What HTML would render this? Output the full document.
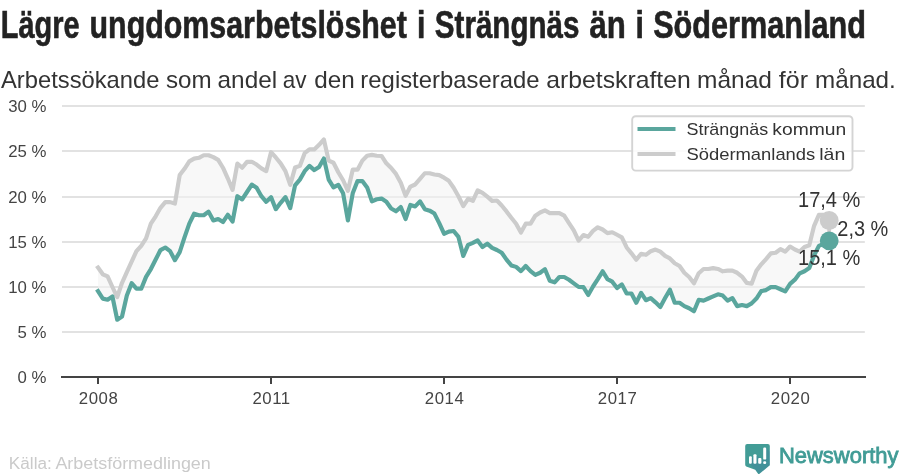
<!DOCTYPE html>
<html><head><meta charset="utf-8"><title>chart</title>
<style>
html,body{margin:0;padding:0;background:#fff;}
body{width:900px;height:474px;overflow:hidden;position:relative;font-family:"Liberation Sans",sans-serif;}
svg{position:absolute;left:0;top:0;will-change:transform;}
text{font-family:"Liberation Sans",sans-serif;}
.tick{font-size:16.8px;fill:#444;}
.xt{letter-spacing:0.55px;}
.title{font-size:38px;font-weight:bold;fill:#222;stroke:#222;stroke-width:0.6px;}
.sub{font-size:23.2px;fill:#333;}
.leg{font-size:16.4px;fill:#333;}
.val{font-size:22.2px;fill:#333;}
.src{font-size:16px;fill:#cacaca;}
.logo{font-size:21.3px;fill:#419c96;stroke:#419c96;stroke-width:0.8px;}
</style></head><body>
<svg width="900" height="474" viewBox="0 0 900 474">
<text x="0.76" y="37.5" class="title" textLength="78.82" lengthAdjust="spacingAndGlyphs">Lägre</text>
<text x="89.53" y="37.5" class="title" textLength="317.36" lengthAdjust="spacingAndGlyphs">ungdomsarbetslöshet</text>
<text x="417.05" y="37.5" class="title" textLength="8.38" lengthAdjust="spacingAndGlyphs">i</text>
<text x="434.83" y="37.5" class="title" textLength="144.61" lengthAdjust="spacingAndGlyphs">Strängnäs</text>
<text x="589.4" y="37.5" class="title" textLength="36.39" lengthAdjust="spacingAndGlyphs">än</text>
<text x="635.55" y="37.5" class="title" textLength="8.38" lengthAdjust="spacingAndGlyphs">i</text>
<text x="653.19" y="37.5" class="title" textLength="212.82" lengthAdjust="spacingAndGlyphs">Södermanland</text>
<text x="1.03" y="87.5" class="sub" textLength="158.42" lengthAdjust="spacingAndGlyphs">Arbetssökande</text>
<text x="165.93" y="87.5" class="sub" textLength="45.67" lengthAdjust="spacingAndGlyphs">som</text>
<text x="217.57" y="87.5" class="sub" textLength="59.56" lengthAdjust="spacingAndGlyphs">andel</text>
<text x="282.66" y="87.5" class="sub" textLength="23.81" lengthAdjust="spacingAndGlyphs">av</text>
<text x="314.25" y="87.5" class="sub" textLength="40.51" lengthAdjust="spacingAndGlyphs">den</text>
<text x="360.38" y="87.5" class="sub" textLength="179.16" lengthAdjust="spacingAndGlyphs">registerbaserade</text>
<text x="546.35" y="87.5" class="sub" textLength="144.42" lengthAdjust="spacingAndGlyphs">arbetskraften</text>
<text x="697.03" y="87.5" class="sub" textLength="74.9" lengthAdjust="spacingAndGlyphs">månad</text>
<text x="778.83" y="87.5" class="sub" textLength="29.19" lengthAdjust="spacingAndGlyphs">för</text>
<text x="815.05" y="87.5" class="sub" textLength="80.77" lengthAdjust="spacingAndGlyphs">månad.</text>
<rect x="62" y="105.00" width="802.8" height="2" fill="#e2e2e2"/>
<rect x="62" y="150.00" width="802.8" height="2" fill="#e2e2e2"/>
<rect x="62" y="196.00" width="802.8" height="2" fill="#e2e2e2"/>
<rect x="62" y="241.00" width="802.8" height="2" fill="#e2e2e2"/>
<rect x="62" y="286.00" width="802.8" height="2" fill="#e2e2e2"/>
<rect x="62" y="331.00" width="802.8" height="2" fill="#e2e2e2"/>
<text x="46.5" y="111.70" text-anchor="end" class="tick">30 %</text>
<text x="46.5" y="156.70" text-anchor="end" class="tick">25 %</text>
<text x="46.5" y="202.70" text-anchor="end" class="tick">20 %</text>
<text x="46.5" y="247.70" text-anchor="end" class="tick">15 %</text>
<text x="46.5" y="292.70" text-anchor="end" class="tick">10 %</text>
<text x="46.5" y="337.70" text-anchor="end" class="tick">5 %</text>
<text x="46.5" y="382.70" text-anchor="end" class="tick">0 %</text>
<polygon points="98.0,267.58 102.81,274.33 107.61,276.44 112.42,287.0 117.22,297.13 122.03,282.78 126.84,272.22 131.64,261.67 136.45,251.11 141.25,245.83 146.06,238.44 150.87,223.67 155.67,216.28 160.48,207.83 165.28,202.13 170.09,202.13 174.9,203.61 179.7,175.11 184.51,168.78 189.31,161.39 194.12,158.64 198.93,157.8 203.73,155.27 208.54,155.27 213.34,157.17 218.15,159.91 222.96,167.72 227.76,178.28 232.57,189.89 237.37,163.5 242.18,167.72 246.99,161.81 251.79,161.81 256.6,164.56 261.4,168.36 266.21,171.17 271.02,152.17 275.82,157.44 280.63,163.36 285.43,171.17 290.24,184.89 295.05,167.58 299.85,165.89 304.66,153.22 309.46,149.42 314.27,149.42 319.08,144.78 323.88,139.5 328.69,160.61 333.49,162.72 338.3,172.22 343.11,180.24 347.91,190.8 352.72,169.69 357.52,169.69 362.33,160.61 367.14,155.76 371.94,154.91 376.75,155.76 381.55,155.97 386.36,163.36 391.17,168.0 395.97,173.91 400.78,182.78 405.58,195.87 410.39,186.58 415.2,184.47 420.0,178.98 424.81,173.28 429.61,173.28 434.42,174.5 439.23,175.13 444.03,177.67 448.84,180.83 453.64,187.8 458.45,196.24 463.26,206.17 468.06,198.78 472.87,200.89 477.67,190.33 482.48,192.87 487.29,196.67 492.09,200.89 496.9,200.47 501.7,205.53 506.51,211.44 511.32,217.78 516.12,223.69 520.93,232.56 525.73,223.69 530.54,223.69 535.35,215.67 540.15,212.5 544.96,210.39 549.76,213.13 554.57,213.13 559.38,213.13 564.18,215.67 568.99,223.06 573.79,230.44 578.6,240.58 583.41,235.09 588.21,236.78 593.02,230.87 597.82,227.28 602.63,229.5 607.44,233.09 612.24,232.24 617.05,234.78 621.85,237.31 626.66,247.44 631.47,253.36 636.27,259.69 641.08,253.78 645.88,254.83 650.69,251.24 655.5,249.56 660.3,251.67 665.11,255.89 669.91,258.42 674.72,263.28 679.53,266.02 684.33,272.78 689.14,277.0 693.94,283.33 698.75,273.2 703.56,268.98 708.36,268.98 713.17,268.13 717.97,268.98 722.78,271.3 727.59,270.67 732.39,270.67 737.2,272.78 742.0,276.58 746.81,282.91 751.62,283.76 756.42,270.67 761.23,264.33 766.03,259.06 770.84,253.36 775.65,252.72 780.45,249.13 785.26,251.67 790.06,246.54 794.87,249.49 799.68,251.6 804.48,246.96 809.29,245.27 814.09,225.86 818.9,214.89 823.71,214.89 828.51,219.75 828.51,240.63 823.71,243.8 818.9,245.91 814.09,255.4 809.29,268.06 804.48,271.22 799.68,273.33 794.87,279.66 790.06,283.88 785.26,291.36 780.45,289.24 775.65,287.13 770.84,287.13 766.03,290.09 761.23,291.14 756.42,298.53 751.62,303.39 746.81,306.13 742.0,305.08 737.2,306.13 732.39,298.11 727.59,300.64 722.78,295.58 717.97,294.31 713.17,296.42 708.36,298.53 703.56,300.64 698.75,299.8 693.94,311.2 689.14,308.24 684.33,306.13 679.53,302.76 674.72,302.76 669.91,289.67 665.11,298.11 660.3,306.98 655.5,302.33 650.69,298.11 645.88,300.22 641.08,292.83 636.27,302.76 631.47,293.47 626.66,293.47 621.85,284.39 617.05,287.98 612.24,281.64 607.44,279.11 602.63,271.3 597.82,279.11 593.02,286.5 588.21,294.94 583.41,287.13 578.6,286.92 573.79,283.33 568.99,279.74 564.18,277.0 559.38,277.0 554.57,282.28 549.76,280.8 544.96,269.19 540.15,272.78 535.35,274.89 530.54,271.09 525.73,266.02 520.93,271.09 516.12,266.87 511.32,265.39 506.51,259.69 501.7,252.72 496.9,249.98 492.09,247.87 487.29,243.64 482.48,247.02 477.67,240.48 472.87,242.8 468.06,244.91 463.26,255.89 458.45,236.89 453.64,230.98 448.84,231.61 444.03,233.72 439.23,223.17 434.42,213.56 429.61,210.64 424.81,209.17 420.0,201.36 415.2,206.42 410.39,204.94 405.58,219.09 400.78,207.06 395.97,211.28 391.17,208.53 386.36,201.78 381.55,198.61 376.75,199.24 371.94,201.36 367.14,187.42 362.33,181.09 357.52,181.09 352.72,193.33 347.91,220.36 343.11,193.33 338.3,184.89 333.49,187.42 328.69,179.61 323.88,158.5 319.08,166.94 314.27,170.11 309.46,165.89 304.66,171.17 299.85,179.61 295.05,185.31 290.24,208.11 285.43,197.13 280.63,202.83 275.82,209.17 271.02,197.13 266.21,201.78 261.4,196.22 256.6,187.78 251.79,184.61 246.99,192.0 242.18,199.39 237.37,196.22 232.57,221.56 227.76,214.8 222.96,221.98 218.15,219.02 213.34,220.5 208.54,211.63 203.73,215.22 198.93,215.22 194.12,213.74 189.31,223.67 184.51,237.39 179.7,252.17 174.9,260.19 170.09,251.11 165.28,247.52 160.48,250.06 155.67,259.56 150.87,269.06 146.06,276.87 141.25,288.69 136.45,288.69 131.64,283.2 126.84,295.44 122.03,316.56 117.22,319.72 112.42,296.5 107.61,299.67 102.81,298.61 98.0,291.22" fill="#f3f3f3" fill-opacity="0.6"/>
<polyline points="98.0,267.58 102.81,274.33 107.61,276.44 112.42,287.0 117.22,297.13 122.03,282.78 126.84,272.22 131.64,261.67 136.45,251.11 141.25,245.83 146.06,238.44 150.87,223.67 155.67,216.28 160.48,207.83 165.28,202.13 170.09,202.13 174.9,203.61 179.7,175.11 184.51,168.78 189.31,161.39 194.12,158.64 198.93,157.8 203.73,155.27 208.54,155.27 213.34,157.17 218.15,159.91 222.96,167.72 227.76,178.28 232.57,189.89 237.37,163.5 242.18,167.72 246.99,161.81 251.79,161.81 256.6,164.56 261.4,168.36 266.21,171.17 271.02,152.17 275.82,157.44 280.63,163.36 285.43,171.17 290.24,184.89 295.05,167.58 299.85,165.89 304.66,153.22 309.46,149.42 314.27,149.42 319.08,144.78 323.88,139.5 328.69,160.61 333.49,162.72 338.3,172.22 343.11,180.24 347.91,190.8 352.72,169.69 357.52,169.69 362.33,160.61 367.14,155.76 371.94,154.91 376.75,155.76 381.55,155.97 386.36,163.36 391.17,168.0 395.97,173.91 400.78,182.78 405.58,195.87 410.39,186.58 415.2,184.47 420.0,178.98 424.81,173.28 429.61,173.28 434.42,174.5 439.23,175.13 444.03,177.67 448.84,180.83 453.64,187.8 458.45,196.24 463.26,206.17 468.06,198.78 472.87,200.89 477.67,190.33 482.48,192.87 487.29,196.67 492.09,200.89 496.9,200.47 501.7,205.53 506.51,211.44 511.32,217.78 516.12,223.69 520.93,232.56 525.73,223.69 530.54,223.69 535.35,215.67 540.15,212.5 544.96,210.39 549.76,213.13 554.57,213.13 559.38,213.13 564.18,215.67 568.99,223.06 573.79,230.44 578.6,240.58 583.41,235.09 588.21,236.78 593.02,230.87 597.82,227.28 602.63,229.5 607.44,233.09 612.24,232.24 617.05,234.78 621.85,237.31 626.66,247.44 631.47,253.36 636.27,259.69 641.08,253.78 645.88,254.83 650.69,251.24 655.5,249.56 660.3,251.67 665.11,255.89 669.91,258.42 674.72,263.28 679.53,266.02 684.33,272.78 689.14,277.0 693.94,283.33 698.75,273.2 703.56,268.98 708.36,268.98 713.17,268.13 717.97,268.98 722.78,271.3 727.59,270.67 732.39,270.67 737.2,272.78 742.0,276.58 746.81,282.91 751.62,283.76 756.42,270.67 761.23,264.33 766.03,259.06 770.84,253.36 775.65,252.72 780.45,249.13 785.26,251.67 790.06,246.54 794.87,249.49 799.68,251.6 804.48,246.96 809.29,245.27 814.09,225.86 818.9,214.89 823.71,214.89 828.51,219.75" fill="none" stroke="#cccccc" stroke-width="4.17" stroke-linejoin="round" stroke-linecap="square"/>
<polyline points="98.0,291.22 102.81,298.61 107.61,299.67 112.42,296.5 117.22,319.72 122.03,316.56 126.84,295.44 131.64,283.2 136.45,288.69 141.25,288.69 146.06,276.87 150.87,269.06 155.67,259.56 160.48,250.06 165.28,247.52 170.09,251.11 174.9,260.19 179.7,252.17 184.51,237.39 189.31,223.67 194.12,213.74 198.93,215.22 203.73,215.22 208.54,211.63 213.34,220.5 218.15,219.02 222.96,221.98 227.76,214.8 232.57,221.56 237.37,196.22 242.18,199.39 246.99,192.0 251.79,184.61 256.6,187.78 261.4,196.22 266.21,201.78 271.02,197.13 275.82,209.17 280.63,202.83 285.43,197.13 290.24,208.11 295.05,185.31 299.85,179.61 304.66,171.17 309.46,165.89 314.27,170.11 319.08,166.94 323.88,158.5 328.69,179.61 333.49,187.42 338.3,184.89 343.11,193.33 347.91,220.36 352.72,193.33 357.52,181.09 362.33,181.09 367.14,187.42 371.94,201.36 376.75,199.24 381.55,198.61 386.36,201.78 391.17,208.53 395.97,211.28 400.78,207.06 405.58,219.09 410.39,204.94 415.2,206.42 420.0,201.36 424.81,209.17 429.61,210.64 434.42,213.56 439.23,223.17 444.03,233.72 448.84,231.61 453.64,230.98 458.45,236.89 463.26,255.89 468.06,244.91 472.87,242.8 477.67,240.48 482.48,247.02 487.29,243.64 492.09,247.87 496.9,249.98 501.7,252.72 506.51,259.69 511.32,265.39 516.12,266.87 520.93,271.09 525.73,266.02 530.54,271.09 535.35,274.89 540.15,272.78 544.96,269.19 549.76,280.8 554.57,282.28 559.38,277.0 564.18,277.0 568.99,279.74 573.79,283.33 578.6,286.92 583.41,287.13 588.21,294.94 593.02,286.5 597.82,279.11 602.63,271.3 607.44,279.11 612.24,281.64 617.05,287.98 621.85,284.39 626.66,293.47 631.47,293.47 636.27,302.76 641.08,292.83 645.88,300.22 650.69,298.11 655.5,302.33 660.3,306.98 665.11,298.11 669.91,289.67 674.72,302.76 679.53,302.76 684.33,306.13 689.14,308.24 693.94,311.2 698.75,299.8 703.56,300.64 708.36,298.53 713.17,296.42 717.97,294.31 722.78,295.58 727.59,300.64 732.39,298.11 737.2,306.13 742.0,305.08 746.81,306.13 751.62,303.39 756.42,298.53 761.23,291.14 766.03,290.09 770.84,287.13 775.65,287.13 780.45,289.24 785.26,291.36 790.06,283.88 794.87,279.66 799.68,273.33 804.48,271.22 809.29,268.06 814.09,255.4 818.9,245.91 823.71,243.8 828.51,240.63" fill="none" stroke="#5aa69d" stroke-width="4.17" stroke-linejoin="round" stroke-linecap="square"/>
<rect x="61" y="376" width="805" height="2" fill="#444"/>
<rect x="97" y="377" width="2" height="7" fill="#444"/><text x="98.6" y="404" text-anchor="middle" class="tick xt">2008</text>
<rect x="270" y="377" width="2" height="7" fill="#444"/><text x="271.6" y="404" text-anchor="middle" class="tick xt">2011</text>
<rect x="443" y="377" width="2" height="7" fill="#444"/><text x="444.6" y="404" text-anchor="middle" class="tick xt">2014</text>
<rect x="616" y="377" width="2" height="7" fill="#444"/><text x="617.6" y="404" text-anchor="middle" class="tick xt">2017</text>
<rect x="789" y="377" width="2" height="7" fill="#444"/><text x="790.6" y="404" text-anchor="middle" class="tick xt">2020</text>
<line x1="829.2" y1="220" x2="829.2" y2="240.6" stroke="#cfcccc" stroke-width="3.8"/>
<circle cx="829.2" cy="220.5" r="9.4" fill="#cccccc"/>
<circle cx="829.2" cy="240.8" r="9.4" fill="#5aa69d"/>
<text x="798" y="207" class="val" textLength="62.3" lengthAdjust="spacingAndGlyphs">17,4 %</text>
<text x="837.3" y="236.4" class="val" textLength="51" lengthAdjust="spacingAndGlyphs">2,3 %</text>
<text x="798" y="265" class="val" textLength="62.3" lengthAdjust="spacingAndGlyphs">15,1 %</text>
<rect x="632.2" y="116.2" width="220.3" height="54.4" rx="3.5" fill="#ffffff" fill-opacity="0.85" stroke="#d4d4d4" stroke-width="1.9"/>
<line x1="637.5" y1="129" x2="675.5" y2="129" stroke="#5aa69d" stroke-width="4.17"/>
<line x1="637.5" y1="154" x2="675.5" y2="154" stroke="#cccccc" stroke-width="4.17"/>
<text x="686.45" y="135.3" class="leg" textLength="81.73" lengthAdjust="spacingAndGlyphs">Strängnäs</text>
<text x="772.27" y="135.3" class="leg" textLength="74.0" lengthAdjust="spacingAndGlyphs">kommun</text>
<text x="686.42" y="160.3" class="leg" textLength="128.89" lengthAdjust="spacingAndGlyphs">Södermanlands</text>
<text x="819.25" y="160.3" class="leg" textLength="26.06" lengthAdjust="spacingAndGlyphs">län</text>
<text x="8.88" y="468.7" class="src" textLength="42.89" lengthAdjust="spacingAndGlyphs">Källa:</text>
<text x="55.43" y="468.7" class="src" textLength="155.36" lengthAdjust="spacingAndGlyphs">Arbetsförmedlingen</text>
<g>
<path d="M747.2,444.1 H767.8 Q769.8,444.1 769.8,446.1 V465.2 L758.6,474.5 L755.2,469.8 L746.2,466.4 Q745.2,466 745.2,464.6 V446.1 Q745.2,444.1 747.2,444.1 Z" fill="#429c96"/>
<clipPath id="ic"><path d="M747.2,444.1 H767.8 Q769.8,444.1 769.8,446.1 V465.2 L758.6,474.5 L755.2,469.8 L746.2,466.4 Q745.2,466 745.2,464.6 V446.1 Q745.2,444.1 747.2,444.1 Z"/></clipPath>
<path d="M751.8,456.8 L773.8,478.8 L771,485.8 L749.6,463.8 Z M756.5,454.90000000000003 L778.5,476.90000000000003 L775.4,485.8 L754.0,463.8 Z M761.4,458.5 L783.4,480.5 L780.2,485.8 L758.8000000000001,463.8 Z M766.2,448.1 L788.2,470.1 L785.2,485.9 L763.8000000000001,463.9 Z" fill="#3f6aa5" fill-opacity="0.2" clip-path="url(#ic)"/>
<rect x="749" y="456.2" width="2.8" height="7.6" rx="1" fill="#fff"/>
<rect x="753.4" y="454.3" width="3.1" height="9.5" rx="1" fill="#fff"/>
<rect x="758.2" y="457.9" width="3.2" height="5.9" rx="1" fill="#fff"/>
<rect x="763.2" y="447.5" width="3" height="12.1" rx="1.2" fill="#fff"/>
<rect x="763.2" y="461.2" width="3" height="2.7" rx="1.2" fill="#fff"/>
</g>
<text x="778.9" y="462.7" class="logo" textLength="119.6" lengthAdjust="spacingAndGlyphs">Newsworthy</text>
</svg>
</body></html>
